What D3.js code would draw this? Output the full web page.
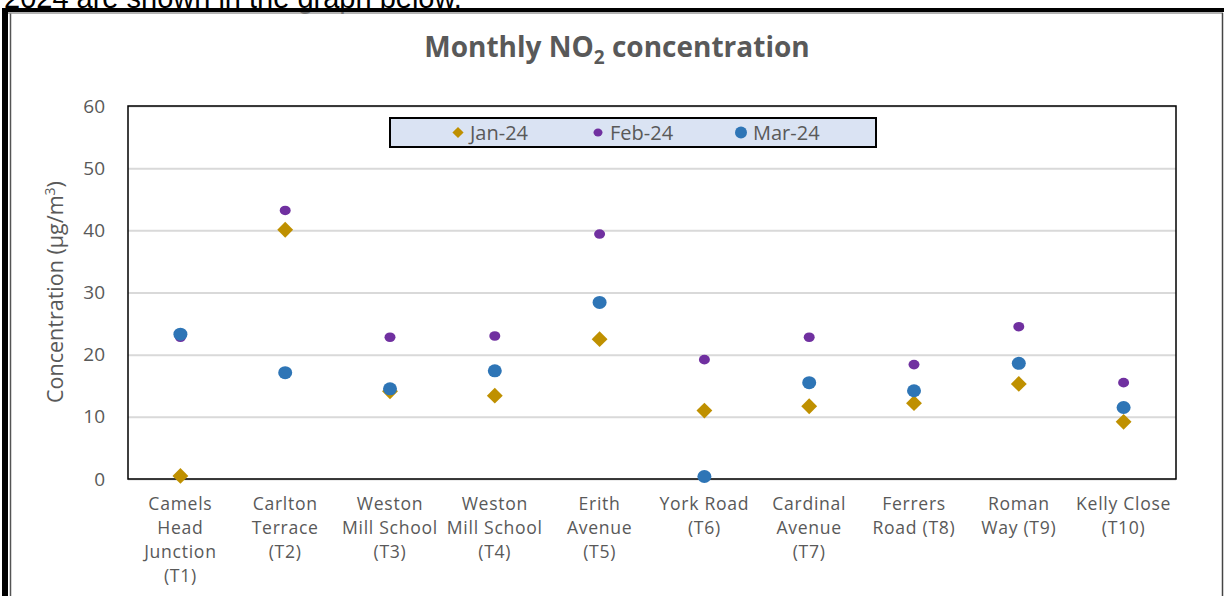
<!DOCTYPE html>
<html>
<head>
<meta charset="utf-8">
<script src="https://cdn.jsdelivr.net/npm/d3@7"></script>
<style>
  html, body { margin: 0; background: #fff; overflow: hidden; }
  svg { display: block; }
  text { font-family: "Open Sans", sans-serif; }
</style>
</head>
<body>
<div id="chart"></div>
<script>
// sites along x axis, each label split into lines
const sites = ["T1", "T2", "T3", "T4", "T5", "T6", "T7", "T8", "T9", "T10"];
const siteLabels = [
  ["Camels", "Head", "Junction", "(T1)"],
  ["Carlton", "Terrace", "(T2)"],
  ["Weston", "Mill School", "(T3)"],
  ["Weston", "Mill School", "(T4)"],
  ["Erith", "Avenue", "(T5)"],
  ["York Road", "(T6)"],
  ["Cardinal", "Avenue", "(T7)"],
  ["Ferrers", "Road (T8)"],
  ["Roman", "Way (T9)"],
  ["Kelly Close", "(T10)"]
];
const jan24 = [0.5, 40.1, 14.1, 13.4, 22.5, 11.0, 11.7, 12.2, 15.3, 9.2];
const feb24 = [22.8, 43.2, 22.8, 23.0, 39.4, 19.2, 22.8, 18.4, 24.5, 15.5];
const mar24 = [23.3, 17.1, 14.5, 17.4, 28.4, 0.4, 15.5, 14.2, 18.6, 11.5];
const yTicks = [0, 10, 20, 30, 40, 50, 60];

const W = 1224, H = 596;
const margin = {top: 106, right: 48, bottom: 117, left: 128};
const innerWidth = W - margin.left - margin.right;
const innerHeight = H - margin.top - margin.bottom;

const svg = d3.select("#chart").append("svg")
  .attr("width", W).attr("height", H)
  .attr("viewBox", `0 0 ${W} ${H}`);

// cut-off document text above the figure
svg.append("text")
  .attr("x", 4).attr("y", 8)
  .style("font-family", "'Liberation Sans', Arial, sans-serif")
  .style("font-size", "29px")
  .attr("fill", "#000")
  .text("2024 are shown in the graph below.");

// outer frame of the figure (runs off the bottom of the page)
const frame = svg.append("g").attr("class", "frame");
frame.append("rect").attr("x", 2).attr("y", 8).attr("width", 6).attr("height", H - 8).attr("fill", "#000");
frame.append("rect").attr("x", 2).attr("y", 8).attr("width", W - 2).attr("height", 4).attr("fill", "#000");
frame.append("line").attr("x1", 10.5).attr("x2", 10.5).attr("y1", 13).attr("y2", H)
  .attr("stroke", "#555").attr("stroke-width", 1.5);
frame.append("line").attr("x1", 8).attr("x2", 1223).attr("y1", 13).attr("y2", 13)
  .attr("stroke", "#999").attr("stroke-width", 1.5);
frame.append("line").attr("x1", 1222.5).attr("x2", 1222.5).attr("y1", 13).attr("y2", H)
  .attr("stroke", "#444").attr("stroke-width", 1.5);

// title
const title = svg.append("text")
  .attr("x", 617).attr("y", 57)
  .attr("text-anchor", "middle")
  .attr("fill", "#595959")
  .style("font-size", "28px")
  .style("font-weight", "bold");
title.append("tspan").text("Monthly NO");
title.append("tspan").attr("dy", 7).style("font-size", "19px").text("2");
title.append("tspan").attr("dy", -7).text(" concentration");

const g = svg.append("g").attr("transform", `translate(${margin.left},${margin.top})`);

const x = d3.scaleBand().domain(sites).range([0, innerWidth]);
const y = d3.scaleLinear().domain([0, 60]).range([innerHeight, 0]);

// gridlines
g.append("g")
  .call(d3.axisLeft(y).tickValues(yTicks).tickSize(-innerWidth))
  .call(s => s.select(".domain").remove())
  .call(s => s.selectAll("text").remove())
  .call(s => s.selectAll("line").attr("stroke", "#d9d9d9").attr("stroke-width", 2));

// plot box
g.append("rect").attr("width", innerWidth).attr("height", innerHeight)
  .attr("fill", "none").attr("stroke", "#000").attr("stroke-width", 1.5);

// y axis labels
g.append("g")
  .call(d3.axisLeft(y).tickValues(yTicks).tickSize(0).tickPadding(23))
  .call(s => s.select(".domain").remove())
  .call(s => s.selectAll("text")
    .style("font-family", "'Open Sans', sans-serif")
    .style("font-size", "19px").attr("fill", "#595959"));

// x axis labels, one text per line
const xAxis = g.append("g").attr("transform", `translate(0,${innerHeight})`)
  .call(d3.axisBottom(x).tickSize(0));
xAxis.select(".domain").remove();
xAxis.selectAll(".tick text").remove();
xAxis.selectAll(".tick").each(function(d, i) {
  const tick = d3.select(this);
  siteLabels[i].forEach((line, j) => {
    tick.append("text")
      .attr("fill", "#595959")
      .attr("text-anchor", "middle")
      .attr("x", 0).attr("y", 31 + j * 24)
      .style("font-size", "17.6px")
      .style("letter-spacing", "0.7px")
      .text(line);
  });
});

// y axis title
svg.append("text")
  .attr("transform", "translate(63,292) rotate(-90)")
  .attr("text-anchor", "middle")
  .attr("fill", "#595959")
  .style("font-size", "21.5px")
  .call(t => {
    t.append("tspan").text("Concentration (µg/m");
    t.append("tspan").attr("dy", -8).style("font-size", "14px").text("3");
    t.append("tspan").attr("dy", 8).text(")");
  });

const cx = (d, i) => x(sites[i]) + x.bandwidth() / 2;
const diamond = d3.symbol().type(d3.symbolDiamond2).size(160);

// Jan-24 diamonds
g.selectAll(".jan").data(jan24).enter().append("path")
  .attr("class", "jan")
  .attr("d", diamond)
  .attr("transform", (d, i) => `translate(${cx(d, i)},${y(d)})`)
  .attr("fill", "#bf9000");

// Feb-24 small ellipses
g.selectAll(".feb").data(feb24).enter().append("ellipse")
  .attr("class", "feb")
  .attr("cx", cx).attr("cy", d => y(d))
  .attr("rx", 5.5).attr("ry", 4.8)
  .attr("fill", "#7030a0");

// Mar-24 circles
g.selectAll(".mar").data(mar24).enter().append("ellipse")
  .attr("class", "mar")
  .attr("cx", cx).attr("cy", d => y(d))
  .attr("rx", 7).attr("ry", 6.5)
  .attr("fill", "#2e75b6");

// legend
const legend = svg.append("g").attr("transform", "translate(390,118)");
legend.append("rect").attr("width", 486).attr("height", 29)
  .attr("fill", "#dae3f3").attr("stroke", "#000").attr("stroke-width", 2);
const items = [
  {name: "Jan-24", x: 68, shape: "diamond", color: "#bf9000"},
  {name: "Feb-24", x: 208, shape: "small", color: "#7030a0"},
  {name: "Mar-24", x: 351, shape: "big", color: "#2e75b6"}
];
items.forEach(it => {
  const li = legend.append("g").attr("transform", `translate(${it.x},14.5)`);
  if (it.shape === "diamond") {
    li.append("path").attr("d", d3.symbol().type(d3.symbolDiamond2).size(80)).attr("fill", it.color);
  } else if (it.shape === "small") {
    li.append("ellipse").attr("rx", 4.5).attr("ry", 4).attr("fill", it.color);
  } else {
    li.append("circle").attr("r", 6).attr("fill", it.color);
  }
  li.append("text").attr("x", 12).attr("y", 7)
    .attr("fill", "#595959").style("font-size", "20px").text(it.name);
});
</script>
</body>
</html>
